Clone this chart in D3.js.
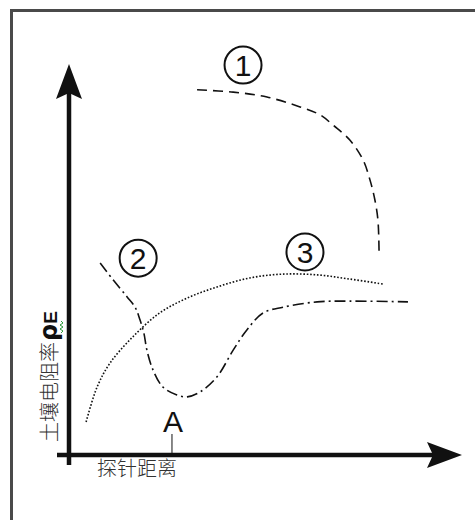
<!DOCTYPE html>
<html>
<head>
<meta charset="utf-8">
<script src="https://cdn.jsdelivr.net/npm/d3@7"></script>
<style>
  body { margin: 0; background: #fff; }
  svg { display: block; }
</style>
</head>
<body>
<div id="chartDiv"></div>
<script>
var width = 475,
    height = 520;

// curve 1 : dashed, high resistivity then drops (x = probe distance, y = resistivity)
var curve1X = [33.7, 43.2, 52.1, 60.8, 66.1, 69.5, 73.9, 77.4, 79.2, 80.5, 81.3, 81.6];
var curve1Y = [96.1, 95.5, 94.2, 91.6, 89.5, 86.8, 82.9, 77.6, 72.4, 67.1, 61.8, 53.2];
// curve 2 : dash-dot, dips near A then levels off
var curve2X = [8.2, 11.6, 15.3, 17.4, 18.7, 19.7, 20.5, 22.1, 24.7, 28.4, 31.1, 34.5, 38.9, 43.2, 46.8, 51.1, 56.3, 65.3, 73.9, 89.2];
var curve2Y = [50.5, 46.1, 41.6, 38.9, 35.5, 32.1, 27.6, 22.4, 17.9, 15.8, 15.3, 16.6, 20.5, 27.6, 32.9, 37.4, 38.9, 40.3, 40.5, 40.3];
// curve 3 : dotted, rising then flat
var curve3X = [4.5, 7.4, 10.8, 16.8, 23.9, 31.1, 38.9, 47.6, 56.3, 65.3, 73.9, 82.6];
var curve3Y = [8.7, 17.9, 24.2, 31.1, 37.4, 41.3, 44.2, 46.6, 47.6, 47.4, 46.3, 45.0];

// circled curve numbers
var labelText = ["1", "2", "3"];
var labelX = [45.8, 18.2, 62.1];
var labelY = [102.6, 51.8, 53.4];

// point A on the distance axis
var pointA = 27.1;
var xTitle = "探针距离";
var yTitle = "土壤电阻率";

var x = d3.scaleLinear().domain([0, 100]).range([69, 449]);
var y = d3.scaleLinear().domain([0, 100]).range([455, 75]);

var svg = d3.select("#chartDiv")
    .append("svg")
    .attr("width", width)
    .attr("height", height);

// outer frame (runs off the right and bottom edge)
svg.append("rect")
    .attr("x", 11.5)
    .attr("y", 10.5)
    .attr("width", 480)
    .attr("height", 540)
    .attr("fill", "none")
    .attr("stroke", "#4a4a4a")
    .attr("stroke-width", 3);

// axes with arrow heads
var axes = svg.append("g").attr("class", "axes");
axes.append("line")
    .attr("x1", x(0)).attr("x2", x(0))
    .attr("y1", y(0) + 10).attr("y2", y(100) + 10)
    .attr("stroke", "#111").attr("stroke-width", 4.5);
axes.append("line")
    .attr("x1", x(0) - 12).attr("x2", x(100))
    .attr("y1", y(0)).attr("y2", y(0))
    .attr("stroke", "#111").attr("stroke-width", 4.5);

var arrowHead = "M0,0 L-35,-13 L-29,0 L-35,13 Z";
axes.append("path")
    .attr("d", arrowHead)
    .attr("transform", "translate(" + (x(100) + 13) + "," + y(0) + ")")
    .attr("fill", "#111");
axes.append("path")
    .attr("d", arrowHead)
    .attr("transform", "translate(" + x(0) + "," + (y(100) - 11) + ") rotate(-90)")
    .attr("fill", "#111");

// curves
var line = d3.line()
    .x(function (d) { return x(d[0]); })
    .y(function (d) { return y(d[1]); })
    .curve(d3.curveCatmullRom);

var series = [
    { xs: curve1X, ys: curve1Y, dash: "10,6" },
    { xs: curve2X, ys: curve2Y, dash: "11,4,2,4" },
    { xs: curve3X, ys: curve3Y, dash: "1.6,1.8" }
];

svg.append("g")
    .selectAll("path")
    .data(series)
    .enter().append("path")
    .attr("d", function (s) { return line(d3.zip(s.xs, s.ys)); })
    .attr("fill", "none")
    .attr("stroke", "#111")
    .attr("stroke-width", 1.6)
    .attr("stroke-dasharray", function (s) { return s.dash; });

// circled numbers
var labels = svg.append("g")
    .selectAll("g")
    .data(d3.range(labelText.length))
    .enter().append("g")
    .attr("transform", function (i) {
        return "translate(" + x(labelX[i]) + "," + y(labelY[i]) + ")";
    });
labels.append("circle")
    .attr("r", 18.5)
    .attr("fill", "none")
    .attr("stroke", "#111")
    .attr("stroke-width", 2);
labels.append("text")
    .attr("text-anchor", "middle")
    .attr("y", 11)
    .style("font-family", "'Liberation Sans', Arial, sans-serif")
    .style("font-size", "30px")
    .attr("fill", "#111")
    .text(function (i) { return labelText[i]; });

// point A
svg.append("line")
    .attr("x1", x(pointA)).attr("x2", x(pointA))
    .attr("y1", y(0) - 21).attr("y2", y(0))
    .attr("stroke", "#111").attr("stroke-width", 1);
svg.append("text")
    .attr("x", x(pointA) + 1)
    .attr("y", 432)
    .attr("text-anchor", "middle")
    .style("font-family", "'Liberation Sans', Arial, sans-serif")
    .style("font-size", "30px")
    .attr("fill", "#111")
    .text("A");

// axis titles
svg.append("text")
    .attr("x", 97)
    .attr("y", 476)
    .style("font-family", "'Noto Sans CJK SC', sans-serif")
    .style("font-size", "20px")
    .style("font-weight", 300)
    .attr("fill", "#333")
    .text(xTitle);

var yt = svg.append("text")
    .attr("transform", "translate(57,442) rotate(-90)")
    .style("font-family", "'Noto Sans CJK SC', sans-serif")
    .style("font-size", "20px")
    .style("font-weight", 300)
    .attr("fill", "#333")
    .text(yTitle);
yt.append("tspan")
    .attr("dx", 1)
    .style("font-family", "'DejaVu Sans', sans-serif")
    .style("font-weight", "bold")
    .style("font-size", "24px")
    .attr("fill", "#111")
    .text("ρ");
yt.append("tspan")
    .style("font-family", "'Liberation Sans', Arial, sans-serif")
    .style("font-weight", "bold")
    .style("font-size", "19px")
    .attr("fill", "#111")
    .text("E");

// little green squiggle next to rho
svg.append("path")
    .attr("d", "M61,333 L63,331 L60,329 L63,327 L60,325 L63,323 L61,321")
    .attr("fill", "none")
    .attr("stroke", "#2a9a3a")
    .attr("stroke-width", 1);
</script>
</body>
</html>
